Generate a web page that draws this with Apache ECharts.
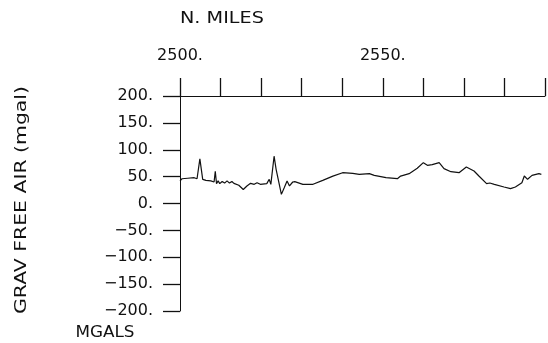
<!DOCTYPE html>
<html>
<head>
<meta charset="utf-8">
<script src="https://cdn.jsdelivr.net/npm/echarts@6/dist/echarts.min.js"></script>
<style>
  html, body { margin: 0; padding: 0; background: #fff; }
  #chart { width: 548px; height: 343px; }
</style>
</head>
<body>
<div id="chart"></div>
<script>
// distance along track (nautical miles) and free-air gravity (mgal)
const miles = [
  2500, 2500.5, 2501.9, 2503.5, 2504.2, 2504.9, 2505.6, 2506.4, 2507.6, 2508.4,
  2508.7, 2509.0, 2509.4, 2509.8, 2510.4, 2511.0, 2511.6, 2512.2, 2512.8, 2513.3,
  2514.5, 2515.6, 2516.5, 2517.4, 2518.3, 2519.0, 2519.8, 2521.4, 2522.0, 2522.4,
  2523.2, 2523.7, 2525.0, 2525.7, 2526.4, 2527.0, 2527.8, 2528.3, 2530.3, 2532.8,
  2535.2, 2537.7, 2540.1, 2542.6, 2544.2, 2546.7, 2547.9, 2550.8, 2553.6, 2554.4,
  2556.5, 2558.5, 2560.0, 2561.0, 2562.2, 2563.9, 2565.1, 2566.8, 2568.8, 2570.6,
  2572.5, 2573.7, 2575.6, 2576.4, 2577.5, 2579.9, 2581.5, 2582.7, 2584.3, 2584.9,
  2585.7, 2586.8, 2588.5, 2589.1
];
const grav = [
  42, 46, 47, 48, 46, 83, 45, 43, 42, 40,
  60, 37, 42, 37, 41, 38, 42, 38, 41, 37.5,
  34, 26, 32.6, 37.5, 35.7, 38.7, 35.7, 37, 45, 35.7,
  88, 63.6, 17, 29.4, 42, 32.6, 40, 40.6, 35.7, 35.7,
  43, 51, 57.3, 56, 54.3, 55.5, 52.4, 48, 46.2, 51,
  55.5, 65.5, 76, 71, 72.3, 76, 64.8, 59.2, 57.3, 68,
  60.5, 51.2, 36.9, 38.1, 35.7, 30.7, 27.6, 30.7, 38.7, 51.2,
  45, 52.4, 55.5, 54.3
];

const font = 'DejaVu Sans';
const ink = '#111';

const chart = echarts.init(document.getElementById('chart'));
chart.setOption({
  animation: false,
  grid: { left: 180, top: 96, right: 0, bottom: 32 },
  xAxis: {
    type: 'value',
    position: 'top',
    min: 2500,
    max: 2590,
    interval: 10,
    axisLine: { show: true, onZero: false, lineStyle: { color: ink, width: 1 } },
    axisTick: { show: true, length: 18, lineStyle: { color: ink, width: 1.3 } },
    splitLine: { show: false },
    axisLabel: {
      margin: 32,
      fontFamily: font,
      fontSize: 16,
      color: ink,
      formatter: v => (v % 50 === 0 ? v + '.' : '')
    }
  },
  yAxis: {
    type: 'value',
    min: -200,
    max: 200,
    interval: 50,
    axisLine: { show: true, onZero: false, lineStyle: { color: ink, width: 1 } },
    axisTick: { show: true, length: 17, lineStyle: { color: ink, width: 1.3 } },
    splitLine: { show: false },
    axisLabel: {
      margin: 27,
      fontFamily: font,
      fontSize: 16,
      color: ink,
      formatter: v => (v < 0 ? '\u2212' + (-v) : v) + '.'
    }
  },
  graphic: [
    {
      type: 'text', x: 180, y: 19,
      style: { text: 'N. MILES', font: '15px ' + font, fill: ink, verticalAlign: 'middle' },
      scaleX: 1.28
    },
    {
      type: 'text', x: 105, y: 333,
      style: { text: 'MGALS', font: '15px ' + font, fill: ink, align: 'center', verticalAlign: 'middle' },
      scaleX: 1.12
    },
    {
      type: 'text', x: 22, y: 200, rotation: Math.PI / 2,
      style: { text: 'GRAV FREE AIR (mgal)', font: '15px ' + font, fill: ink, align: 'center', verticalAlign: 'middle' },
      scaleX: 1.36
    }
  ],
  series: [{
    type: 'line',
    data: miles.map((m, i) => [m, grav[i]]),
    showSymbol: false,
    lineStyle: { color: ink, width: 1.2 }
  }]
});
</script>
</body>
</html>
